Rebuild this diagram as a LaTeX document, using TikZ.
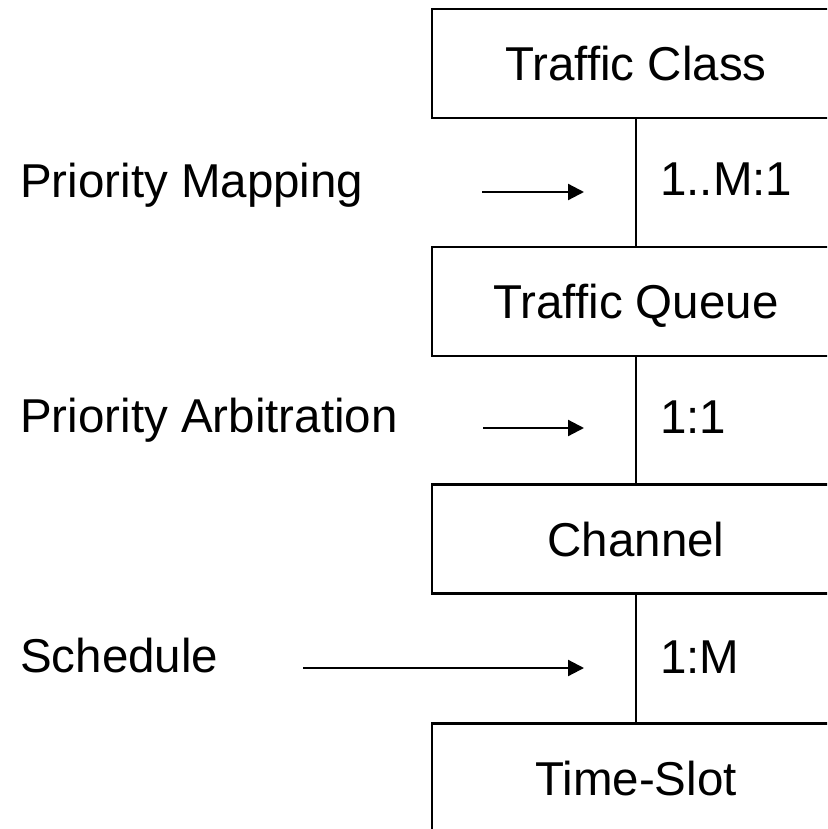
\documentclass[tikz,border=0pt]{standalone}
\usepackage{fontspec}
\setmainfont{Liberation Sans}
\usetikzlibrary{arrows.meta}
\begin{document}
\begin{tikzpicture}[x=1pt,y=-1pt,
  bigtext/.style={font=\fontsize{47.5}{57}\selectfont},
  levelbox/.style={draw, line width=2.4pt, minimum width=408pt, minimum height=109pt,
    inner sep=0pt, bigtext, text height=34pt, text depth=0pt},
  lbl/.style={bigtext, anchor=base west, inner sep=0pt},
  link/.style={line width=2pt},
  arr/.style={line width=2.2pt, -{Triangle[length=16pt,width=16pt]}}]
\useasboundingbox (0,0) rectangle (827,829);
\clip (0,0) rectangle (827,829);
\fill[white] (0,0) rectangle (827,829);
\node[levelbox] (tc) at (636,63.5) {Traffic Class};
\node[levelbox] (tq) at (636,301.5) {Traffic Queue};
\node[levelbox] (ch) at (636,539) {Channel};
\node[levelbox] (ts) at (636,778) {Time-Slot};
\draw[link] (tc.south) -- (tq.north);
\draw[link] (tq.south) -- (ch.north);
\draw[link] (ch.south) -- (ts.north);
\node[lbl] (pm) at (20,197) {Priority Mapping};
\node[lbl] (pa) at (20,432) {Priority Arbitration};
\node[lbl] (sc) at (20,672) {Schedule};
\node[lbl] (r1) at (660,195) {1..M:1};
\node[lbl] (r2) at (660,433) {1:1};
\node[lbl] (r3) at (660,673) {1:M};
\coordinate (a1s) at (482,192);
\coordinate (a1e) at (584,192);
\coordinate (a2s) at (483,428);
\coordinate (a2e) at (584,428);
\coordinate (a3s) at (303,668);
\coordinate (a3e) at (584,668);
\draw[arr] (a1s) -- (a1e);
\draw[arr] (a2s) -- (a2e);
\draw[arr] (a3s) -- (a3e);
\end{tikzpicture}
\end{document}
